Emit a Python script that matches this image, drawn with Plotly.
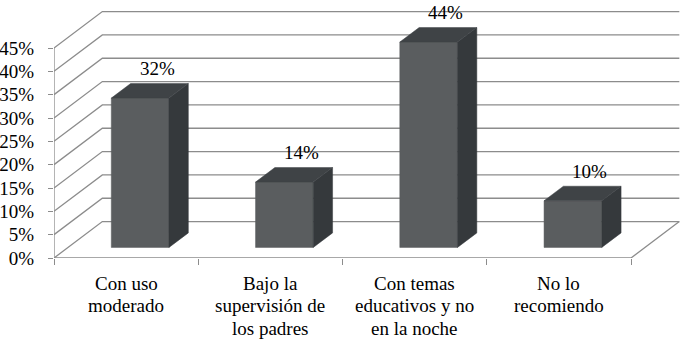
import plotly.graph_objects as go

# ---- data ----
categories = [["Con uso", "moderado"],
              ["Bajo la", "supervisión de", "los padres"],
              ["Con temas", "educativos y no", "en la noche"],
              ["No lo", "recomiendo"]]
values = [32, 14, 44, 10]
value_labels = ["32%", "14%", "44%", "10%"]
y_tick_vals = [0, 5, 10, 15, 20, 25, 30, 35, 40, 45]
y_tick_text = ["0%", "5%", "10%", "15%", "20%", "25%", "30%", "35%", "40%", "45%"]

# ---- 3D projection parameters (data units) ----
DX, DY = 0.335, 7.8      # full depth offset of back wall
F0, F1 = 0.29, 0.69      # bar front / back depth fractions
HW = 0.2                 # half bar width
YMAX = 45

GRID = "#8c8c8c"
FRONT = "#5a5d5f"
SIDE = "#35393c"
TOP = "#3f4346"
FAM = "Liberation Serif"
FS = 19


def font():
    return dict(family=FAM, size=FS, color="black")


W, H = 681, 339
ML, MB = 54, 81
n = len(categories)
px_per_x = 144.25
px_per_y = (258 - 48) / YMAX
x_range = [0, (W - ML) / px_per_x]
y_range = [0, (H - MB) / px_per_y]

fig = go.Figure()

# gridlines (left wall diagonals + back wall horizontals), axes, floor
gx, gy = [], []
for v in y_tick_vals:
    gx += [0, DX, n + DX, None]
    gy += [v, v + DY, v + DY, None]
gx += [0, 0, None, 0, n, n + DX, None]
gy += [0, YMAX, None, 0, 0, DY, None]
fig.add_trace(go.Scatter(x=gx, y=gy, mode="lines",
                         line=dict(color=GRID, width=1.3),
                         hoverinfo="skip", showlegend=False))

ddx = (F1 - F0) * DX
ddy = (F1 - F0) * DY
for i, v in enumerate(values):
    c = i + 0.5
    x0 = c - HW + F0 * DX
    x1 = c + HW + F0 * DX
    yb = F0 * DY
    yt = yb + v
    faces = [
        ([x0, x1, x1, x0, x0], [yb, yb, yt, yt, yb], FRONT),
        ([x1, x1 + ddx, x1 + ddx, x1, x1], [yb, yb + ddy, yt + ddy, yt, yb], SIDE),
        ([x0, x1, x1 + ddx, x0 + ddx, x0], [yt, yt, yt + ddy, yt + ddy, yt], TOP),
    ]
    for fx, fy, col in faces:
        fig.add_trace(go.Scatter(x=fx, y=fy, mode="lines", fill="toself",
                                 fillcolor=col, line=dict(color=col, width=0.5),
                                 hoverinfo="skip", showlegend=False))
    fig.add_annotation(x=c + 0.215, y=v + 8.6, text=value_labels[i],
                       showarrow=False, font=font(),
                       xanchor="center", yanchor="middle")

# category labels, one annotation per line for Excel-like line spacing
for i, lines in enumerate(categories):
    for k, line in enumerate(lines):
        fig.add_annotation(x=i + 0.5, y=0, text=line, showarrow=False,
                           font=font(), xanchor="center", yanchor="middle",
                           yshift=-(25 + 22.5 * k))

fig.update_layout(
    template="none",
    width=W, height=H,
    margin=dict(l=ML, r=0, t=0, b=MB),
    paper_bgcolor="white", plot_bgcolor="white",
    font=font(),
    xaxis=dict(range=x_range, showgrid=False, zeroline=False, showline=False,
               automargin=False,
               tickmode="array", tickvals=list(range(n + 1)), ticktext=[""] * (n + 1),
               ticks="outside", ticklen=6, tickcolor=GRID, tickwidth=1.3,
               fixedrange=True),
    yaxis=dict(range=y_range, showgrid=False, zeroline=False, showline=False,
               automargin=False,
               tickmode="array", tickvals=y_tick_vals, ticktext=y_tick_text,
               ticks="outside", ticklen=5, tickcolor=GRID, tickwidth=1.3,
               tickfont=font(), ticklabelstandoff=10, fixedrange=True),
)

fig.write_html("out.html")
